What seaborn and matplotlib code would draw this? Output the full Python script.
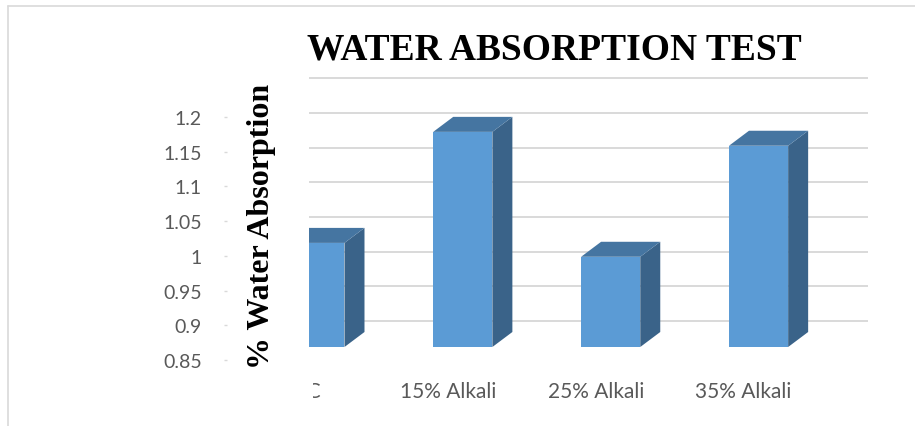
import numpy as np
import pandas as pd
import matplotlib
matplotlib.use("Agg")
import matplotlib.pyplot as plt
import matplotlib.transforms as mtransforms
from matplotlib.patches import Polygon
from matplotlib.lines import Line2D
import seaborn as sns

categories = ["UTC", "15% Alkali", "25% Alkali", "35% Alkali"]
absorption = [1.00, 1.16, 0.98, 1.14]
tick_values = [0.85, 0.90, 0.95, 1.00, 1.05, 1.10, 1.15, 1.20]
tick_labels = ["0.85", "0.9", "0.95", "1", "1.05", "1.1", "1.15", "1.2"]

W, H = 915, 427
sns.set_theme(style="white")
plt.rcParams["font.family"] = ["Lato", "DejaVu Sans"]
SERIF = ["Liberation Serif", "DejaVu Serif"]
GREY_TXT = "#595959"
GRID = "#d9d9d9"


def rect(x0, y0, x1, y1):
    # caixa em pixels (origem no topo) -> fração da figura
    return [x0 / W, 1 - y1 / H, (x1 - x0) / W, (y1 - y0) / H]


fig = plt.figure(figsize=(W / 100, H / 100), dpi=100)

# área do gráfico
ax = fig.add_axes(rect(309, 60, 868, 348))
df = pd.DataFrame({"amostra": categories, "absorcao": absorption})
sns.barplot(data=df, x="amostra", y="absorcao", ax=ax, color="#5b9bd5",
            saturation=1, width=0.4, errorbar=None, zorder=3, linewidth=0)
ax.set_xlim(-0.04, 3.74)
ax.set_ylim(0.85, 1.265)
for s in ax.spines.values():
    s.set_visible(False)
ax.set_xticks([]); ax.set_yticks([])
ax.set_xlabel(""); ax.set_ylabel("")
ax.patch.set_visible(False)

# linhas de grelha na parede de fundo (deslocadas pela profundidade)
back = ax.get_yaxis_transform() + mtransforms.ScaledTranslation(0, 0.26, fig.dpi_scale_trans)
ax.hlines(tick_values, 0, 1, transform=back, colors=GRID, lw=1.4, zorder=1)

# faces 3D (lado e topo) a partir das barras desenhadas pelo seaborn
base = ax.get_ylim()[0]
o = ax.transData.transform((0, base))
dx, dy = ax.transData.inverted().transform(o + np.array([20, 15])) - np.array([0, base])
for bar in ax.patches:
    x0 = bar.get_x(); x1 = x0 + bar.get_width(); top = bar.get_y() + bar.get_height()
    ax.add_patch(Polygon([(x1, base), (x1 + dx, base + dy), (x1 + dx, top + dy), (x1, top)],
                         closed=True, fc="#3a6389", ec="none", zorder=2))
    ax.add_patch(Polygon([(x0, top), (x1, top), (x1 + dx, top + dy), (x0 + dx, top + dy)],
                         closed=True, fc="#4575a1", ec="none", zorder=2))

# rótulos das categorias (cortados à esquerda como no original)
clip = mtransforms.TransformedBbox(mtransforms.Bbox.from_extents(313 / W, 0, 1, 1), fig.transFigure)
lab_tr = ax.get_xaxis_transform() + mtransforms.ScaledTranslation(-0.15, 0, fig.dpi_scale_trans)
for i, c in enumerate(categories):
    t = ax.text(i, (348 - 392) / 288, c, transform=lab_tr, ha="center", va="center",
                fontsize=15, color=GREY_TXT)
    t.set_clip_on(True)
    t.set_clip_box(clip)

# eixo de valores (escala da face frontal esquerda)
lab = fig.add_axes(rect(227, 118, 229, 361))
lab.set_ylim(0.85, 1.2)
lab.set_yticks(tick_values, tick_labels)
lab.set_xticks([])
for s in lab.spines.values():
    s.set_visible(False)
lab.patch.set_visible(False)
lab.tick_params(axis="y", left=True, length=2, width=1, color=GRID, pad=16,
                labelsize=14, labelcolor=GREY_TXT)

fig.text(261 / W, 1 - 226 / H, "% Water Absorption", rotation=90, ha="center", va="center",
         family=SERIF, weight="bold", fontsize=23, color="black")
fig.text(554 / W, 1 - 60 / H, "WATER ABSORPTION TEST", ha="center", va="baseline",
         family=SERIF, weight="bold", fontsize=27, color="black")

# moldura
fig.add_artist(Line2D([8 / W, 8 / W], [0, 1 - 7 / H], color=GRID, lw=1.2))
fig.add_artist(Line2D([8 / W, 1], [1 - 7 / H, 1 - 7 / H], color=GRID, lw=1.2))

fig.savefig("out.png", dpi=100)
